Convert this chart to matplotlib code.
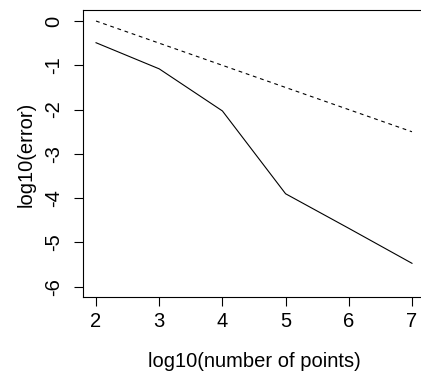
import matplotlib
matplotlib.use("Agg")
import matplotlib.pyplot as plt

# Convergence data (log10 scale)
log_n = [2, 3, 4, 5, 6, 7]
log_err = [-0.49, -1.08, -2.03, -3.90, -4.68, -5.47]
ref_x = [2, 7]
ref_y = [0.0, -2.5]

x_ticks = [2, 3, 4, 5, 6, 7]
y_ticks = [0, -1, -2, -3, -4, -5, -6]

plt.rcParams["font.family"] = ["Liberation Sans", "DejaVu Sans"]

W, H = 421, 371
fig = plt.figure(figsize=(W / 100, H / 100), dpi=100)
left, right, top, bottom = 83.4, 424.6, 10.4, 297.4
ax = fig.add_axes([left / W, 1 - bottom / H, (right - left) / W, (bottom - top) / H])

ax.plot(log_n, log_err, color="black", lw=0.8)
ax.plot(ref_x, ref_y, color="black", lw=0.8, dashes=(3.4, 3.4))

ax.set_xlim(1.8, 7.2)
ax.set_ylim(-6.24, 0.24)
ax.set_xticks(x_ticks)
ax.set_yticks(y_ticks)
ax.set_xticklabels([str(v) for v in x_ticks], fontsize=14.5)
ax.set_yticklabels([str(v) for v in y_ticks], fontsize=14.5, rotation=90, va="center")

ax.tick_params(direction="out", length=6.5, width=0.8, color="black")
ax.tick_params(axis="x", pad=4)
ax.tick_params(axis="y", pad=8)
for s in ax.spines.values():
    s.set_linewidth(0.8)
    s.set_color("black")

ax.set_xlabel("log10(number of points)", fontsize=14.5, labelpad=15)
ax.set_ylabel("log10(error)", fontsize=14.5, labelpad=6.5)

fig.savefig("out.png", dpi=100)
